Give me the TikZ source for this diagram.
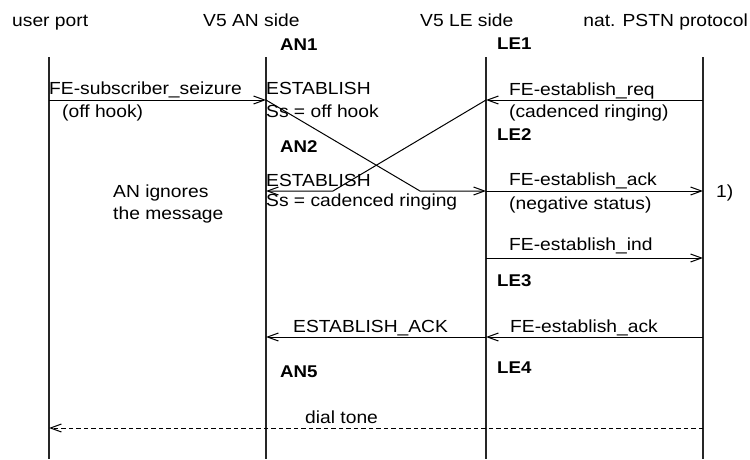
\documentclass[tikz,border=0pt]{standalone}
\usepackage{fontspec}
\setmainfont[FakeStretch=1.1]{Liberation Sans}
\usetikzlibrary{arrows.meta}
\begin{document}
\begin{tikzpicture}[x=1pt,y=-1pt,
  lbl/.style={font=\fontsize{17.5}{20}\selectfont, inner sep=0pt, anchor=base west},
  statelbl/.style={font=\bfseries\fontsize{17}{20}\selectfont, inner sep=0pt, anchor=base west},
  lifeline/.style={line width=1.3pt, draw=black!85},
  msg/.style={line width=1pt, -{Straight Barb[length=11pt,width=8pt,line width=1pt]}},
  tone/.style={msg, dash pattern=on 4.5pt off 3pt}]
\useasboundingbox (0,0) rectangle (750,459);

% lifelines
\coordinate (up-t) at (49,57);   \coordinate (up-b) at (49,459);
\coordinate (an-t) at (266,57);  \coordinate (an-b) at (266,459);
\coordinate (le-t) at (486,57);  \coordinate (le-b) at (486,459);
\coordinate (pr-t) at (703,57);  \coordinate (pr-b) at (703,459);
\draw[lifeline] (up-t) -- (up-b);
\draw[lifeline] (an-t) -- (an-b);
\draw[lifeline] (le-t) -- (le-b);
\draw[lifeline] (pr-t) -- (pr-b);

% column headings
\node[lbl] (h-up) at (12,26) {user port};
\node[lbl] (h-an) at (203,26) {V5 AN side};
\node[lbl] (h-le) at (420,26) {V5 LE side};
\node[lbl, anchor=base east] (h-pr) at (748,26) {nat. PSTN protocol};

% states
\node[statelbl] (an1) at (280,50) {AN1};
\node[statelbl] (le1) at (497,49) {LE1};
\node[statelbl] (le2) at (497,140) {LE2};
\node[statelbl] (an2) at (280,152) {AN2};
\node[statelbl] (le3) at (497,286) {LE3};
\node[statelbl] (an5) at (280,377) {AN5};
\node[statelbl] (le4) at (497,373) {LE4};

% message end points on the lifelines
\coordinate (up-1) at (49,100);
\coordinate (an-1) at (266,100);
\coordinate (le-1) at (486,100);
\coordinate (pr-1) at (703,100);
\coordinate (an-2) at (266,191);
\coordinate (le-2) at (486,191);
\coordinate (pr-2) at (703,191);
\coordinate (le-3) at (486,258);
\coordinate (pr-3) at (703,258);
\coordinate (an-4) at (266,337);
\coordinate (le-4) at (486,337);
\coordinate (pr-4) at (703,337);
\coordinate (up-5) at (49,428);
\coordinate (pr-5) at (703,428);
\coordinate (bend-a) at (420,191);
\coordinate (bend-b) at (333,191);

% messages
\draw[msg] (up-1) -- (an-1);
\draw[msg] (pr-1) -- (le-1);
\draw[msg] (an-1) -- (bend-a) -- (le-2);
\draw[msg] (le-1) -- (bend-b) -- (an-2);
\draw[msg] (le-2) -- (pr-2);
\draw[msg] (le-3) -- (pr-3);
\draw[msg] (pr-4) -- (le-4);
\draw[msg] (le-4) -- (an-4);
\draw[tone] (pr-5) -- (up-5);

% message labels
\node[lbl] (t-seize) at (49,94) {FE-subscriber\_seizure};
\node[lbl] (t-offhook) at (62,117) {(off hook)};
\node[lbl] (t-est1) at (266,94) {ESTABLISH};
\node[lbl] (t-ss1) at (266,117) {Ss = off hook};
\node[lbl] (t-req) at (509,95) {FE-establish\_req};
\node[lbl] (t-cad) at (509,117) {(cadenced ringing)};
\node[lbl] (t-est2) at (266,186) {ESTABLISH};
\node[lbl] (t-ss2) at (266,206) {Ss = cadenced ringing};
\node[lbl] (t-ign1) at (113,197) {AN ignores};
\node[lbl] (t-ign2) at (113,219) {the message};
\node[lbl] (t-ack1) at (509,185) {FE-establish\_ack};
\node[lbl] (t-neg) at (509,209) {(negative status)};
\node[lbl] (t-note) at (716,197) {1)};
\node[lbl] (t-ind) at (509,250) {FE-establish\_ind};
\node[lbl] (t-ack2) at (510,332) {FE-establish\_ack};
\node[lbl] (t-eack) at (293,332) {ESTABLISH\_ACK};
\node[lbl] (t-dial) at (305,423) {dial tone};
\end{tikzpicture}
\end{document}
